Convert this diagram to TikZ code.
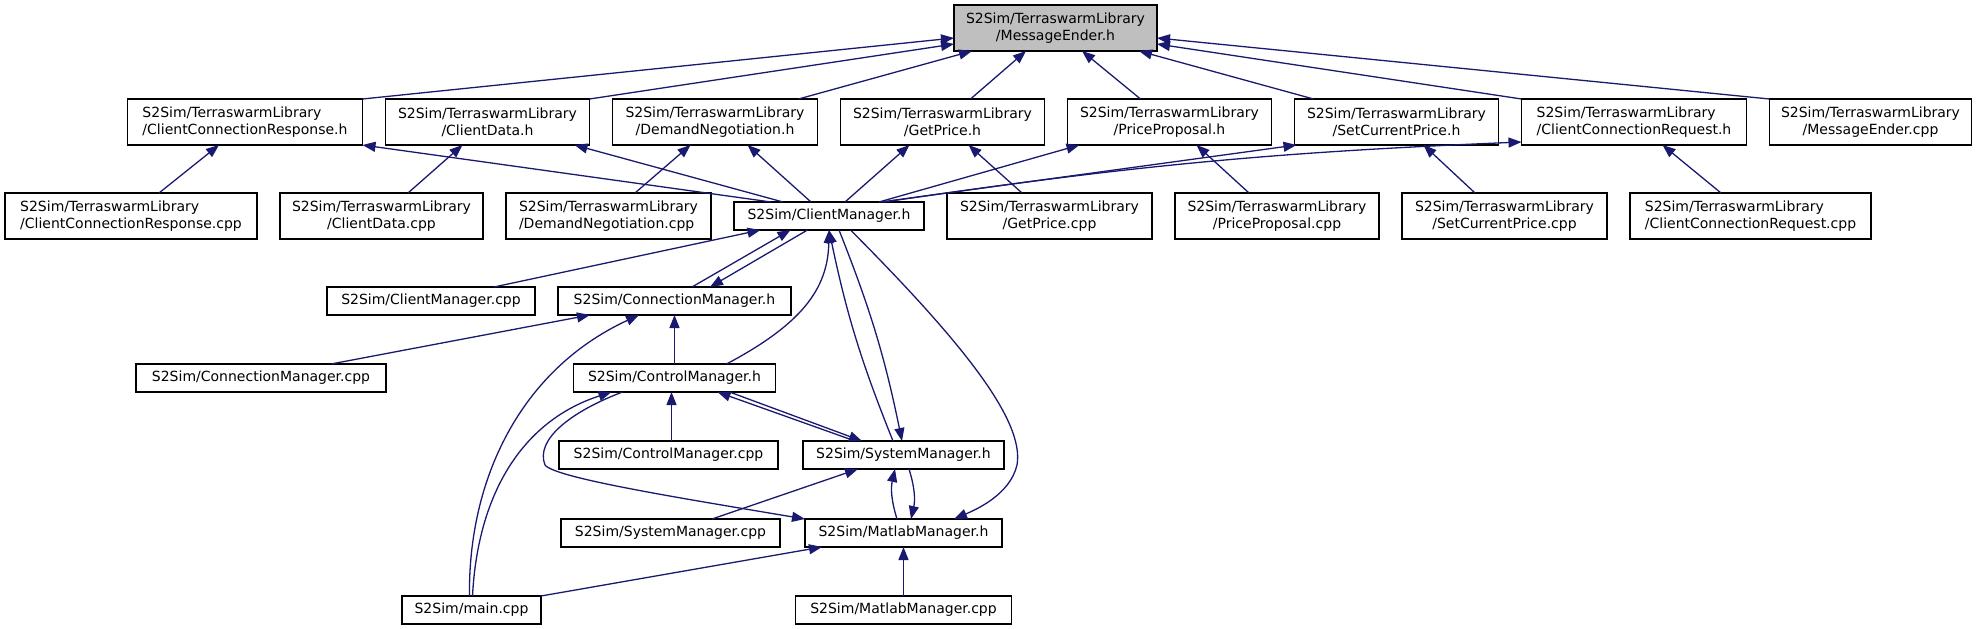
\documentclass[tikz,border=0pt]{standalone}
\usepackage{fontspec}
\setmainfont{DejaVu Sans}
\usepackage{xcolor}
\usepackage{tikz}
\usetikzlibrary{arrows.meta, positioning, calc}
\definecolor{edgeblue}{HTML}{191970}
\definecolor{focusgray}{HTML}{BFBFBF}

\begin{document}
\begin{tikzpicture}[
    x=1pt, y=-1pt,
    every node/.style={font=\fontsize{14}{17}\selectfont},
    filebox/.style={rectangle, draw=black, fill=white, line width=1.5pt,
                    inner sep=0pt, outer sep=0pt, align=center},
    tall/.style={filebox, minimum height=46pt},
    flat/.style={filebox, minimum height=28pt},
    focusbox/.style={tall, fill=focusgray},
    inc/.style={color=edgeblue, line width=1.3pt, -{Triangle[length=13pt, width=10pt]}},
]
    \useasboundingbox (0,0) rectangle (1976,629);

    % Included header
    \node[focusbox, minimum width=203pt] (msgender_h) at (1055.5,28) {S2Sim/TerraswarmLibrary\\/MessageEnder.h};

    % TerraswarmLibrary headers
    \node[tall, minimum width=235pt, align=left] (ccresp_h) at (245,122) {S2Sim/TerraswarmLibrary\\/ClientConnectionResponse.h};
    \node[tall, minimum width=204pt, right=23pt of ccresp_h] (cdata_h) {S2Sim/TerraswarmLibrary\\/ClientData.h};
    \node[tall, minimum width=205pt, right=23pt of cdata_h] (demneg_h) {S2Sim/TerraswarmLibrary\\/DemandNegotiation.h};
    \node[tall, minimum width=204pt, right=23pt of demneg_h] (getprice_h) {S2Sim/TerraswarmLibrary\\/GetPrice.h};
    \node[tall, minimum width=204pt, right=23pt of getprice_h] (propose_h) {S2Sim/TerraswarmLibrary\\/PriceProposal.h};
    \node[tall, minimum width=204pt, right=23pt of propose_h] (setprice_h) {S2Sim/TerraswarmLibrary\\/SetCurrentPrice.h};
    \node[tall, minimum width=225pt, right=23pt of setprice_h, align=left] (ccreq_h) {S2Sim/TerraswarmLibrary\\/ClientConnectionRequest.h};
    \node[tall, minimum width=202pt, right=23pt of ccreq_h] (msgender_cpp) {S2Sim/TerraswarmLibrary\\/MessageEnder.cpp};

    % TerraswarmLibrary sources + ClientManager.h
    \node[tall, minimum width=252pt, align=left] (ccresp_cpp) at (131,216) {S2Sim/TerraswarmLibrary\\/ClientConnectionResponse.cpp};
    \node[tall, minimum width=203pt, right=23pt of ccresp_cpp] (cdata_cpp) {S2Sim/TerraswarmLibrary\\/ClientData.cpp};
    \node[tall, minimum width=205pt, right=23pt of cdata_cpp, align=left] (demneg_cpp) {S2Sim/TerraswarmLibrary\\/DemandNegotiation.cpp};
    \node[flat, minimum width=190pt, right=23pt of demneg_cpp] (cm_h) {S2Sim/ClientManager.h};
    \node[tall, minimum width=205pt, right=23pt of cm_h] (getprice_cpp) {S2Sim/TerraswarmLibrary\\/GetPrice.cpp};
    \node[tall, minimum width=204pt, right=23pt of getprice_cpp] (propose_cpp) {S2Sim/TerraswarmLibrary\\/PriceProposal.cpp};
    \node[tall, minimum width=205pt, right=23pt of propose_cpp] (setprice_cpp) {S2Sim/TerraswarmLibrary\\/SetCurrentPrice.cpp};
    \node[tall, minimum width=241pt, right=23pt of setprice_cpp, align=left] (ccreq_cpp) {S2Sim/TerraswarmLibrary\\/ClientConnectionRequest.cpp};

    % Managers
    \node[flat, minimum width=208pt] (cm_cpp) at (431,301) {S2Sim/ClientManager.cpp};
    \node[flat, minimum width=233pt, right=23pt of cm_cpp] (conn_h) {S2Sim/ConnectionManager.h};
    \node[flat, minimum width=250pt] (conn_cpp) at (261,378) {S2Sim/ConnectionManager.cpp};
    \node[flat, minimum width=202pt, below=49pt of conn_h] (ctrl_h) {S2Sim/ControlManager.h};
    \node[flat, minimum width=219pt] (ctrl_cpp) at (668.5,455) {S2Sim/ControlManager.cpp};
    \node[flat, minimum width=201pt, right=25pt of ctrl_cpp] (sys_h) {S2Sim/SystemManager.h};
    \node[flat, minimum width=219pt] (sys_cpp) at (670.5,533) {S2Sim/SystemManager.cpp};
    \node[flat, minimum width=197pt, below=50pt of sys_h] (mat_h) {S2Sim/MatlabManager.h};
    \node[flat, minimum width=139pt] (main_cpp) at (471.5,610) {S2Sim/main.cpp};
    \node[flat, minimum width=216pt, below=49pt of mat_h] (mat_cpp) {S2Sim/MatlabManager.cpp};

    % Into MessageEnder.h
    \draw[inc] (ccresp_h.north east) -- ($(msgender_h.south west)+(0,-13)$);
    \draw[inc] (cdata_h.north east) -- ($(msgender_h.south west)+(0,-7)$);
    \draw[inc] ($(demneg_h.north)+(83.5,0)$) -- ($(msgender_h.south west)+(18,0)$);
    \draw[inc] ($(getprice_h.north)+(28,0)$) -- ($(msgender_h.south west)+(72,0)$);
    \draw[inc] ($(propose_h.north)+(-29,0)$) -- ($(msgender_h.south)+(26.5,0)$);
    \draw[inc] ($(setprice_h.north west)+(19,0)$) -- ($(msgender_h.south east)+(-18,0)$);
    \draw[inc] (ccreq_h.north west) -- ($(msgender_h.south east)+(0,-7)$);
    \draw[inc] (msgender_cpp.north west) -- ($(msgender_h.south east)+(0,-13)$);

    % Sources into their headers
    \draw[inc] ($(ccresp_cpp.north)+(28,0)$) -- ($(ccresp_h.south)+(-26,0)$);
    \draw[inc] ($(cdata_cpp.north)+(26.5,0)$) -- ($(cdata_h.south)+(-25,0)$);
    \draw[inc] ($(demneg_cpp.north)+(26.5,0)$) -- ($(demneg_h.south)+(-24.5,0)$);
    \draw[inc] ($(getprice_cpp.north)+(-27.5,0)$) -- ($(getprice_h.south)+(26,0)$);
    \draw[inc] ($(propose_cpp.north)+(-28,0)$) -- ($(propose_h.south)+(27,0)$);
    \draw[inc] ($(setprice_cpp.north)+(-29.5,0)$) -- ($(setprice_h.south)+(27,0)$);
    \draw[inc] ($(ccreq_cpp.north)+(-29.5,0)$) -- ($(ccreq_h.south)+(28.5,0)$);

    % ClientManager.h into the library headers
    \draw[inc] ($(cm_h.north)+(-58,0)$) -- (ccresp_h.south east);
    \draw[inc] ($(cm_h.north)+(-46,0)$) -- ($(cdata_h.south east)+(-15,0)$);
    \draw[inc] ($(cm_h.north)+(-18,0)$) -- ($(demneg_h.south)+(32.5,0)$);
    \draw[inc] ($(cm_h.north)+(16,0)$) -- ($(getprice_h.south)+(-33,0)$);
    \draw[inc] ($(cm_h.north)+(50,0)$) -- ($(propose_h.south west)+(12,0)$);
    \draw[inc] ($(cm_h.north)+(52,0)$) -- ($(setprice_h.south west)+(2,0)$);
    \draw[inc] ($(cm_h.north)+(55,0)$) to[bend left=3] ($(ccreq_h.south west)+(0,-3)$);

    % Manager layer
    \draw[inc] ($(cm_cpp.north)+(63,0)$) -- ($(cm_h.south)+(-68.5,0)$);
    \draw[inc] ($(conn_h.north)+(17.5,0)$) -- ($(cm_h.south)+(-38.5,0)$);
    \draw[inc] ($(cm_h.south)+(-21.5,0)$) -- ($(conn_h.north)+(35.5,0)$);
    \draw[inc] ($(conn_cpp.north)+(70,0)$) -- ($(conn_h.south west)+(32,0)$);
    \draw[inc] (ctrl_h.north) -- (ctrl_h.north |- conn_h.south);
    \draw[inc] ($(main_cpp.north)+(-2,0)$) .. controls (468,480) and (520,370) .. ($(conn_h.south)+(-35.5,0)$);
    \draw[inc] ($(main_cpp.north)+(1,0)$) .. controls (478,490) and (525,420) .. ($(ctrl_h.south)+(-63,0)$);
    \draw[inc] ($(ctrl_h.north)+(52,0)$) .. controls (800,325) and (828,290) .. (cm_h.south);
    \draw[inc] ($(ctrl_cpp.north)+(3,0)$) -- ($(ctrl_h.south)+(-3,0)$);
    \draw[inc] ($(sys_h.north)+(-48.5,0)$) -- ($(ctrl_h.south)+(43,0)$);
    \draw[inc] ($(ctrl_h.south)+(55,0)$) -- ($(sys_h.north)+(-41.5,0)$);
    \draw[inc] ($(sys_h.north)+(-10.5,0)$) to[bend left=5] (cm_h.south);
    \draw[inc] ($(cm_h.south)+(10,0)$) to[bend left=5] ($(sys_h.north)+(-1.5,0)$);
    \draw[inc] ($(cm_h.south)+(21.5,0)$) .. controls (960,340) and (1025,420) .. (1017,465)
                .. controls (1010,495) and (975,510) .. ($(mat_h.north)+(50.5,0)$);
    \draw[inc] ($(ctrl_h.south)+(-52,0)$) .. controls (570,412) and (535,440) .. (545,465)
                .. controls (555,478) and (680,498) .. (mat_h.north west);
    \draw[inc] ($(sys_cpp.north)+(41.5,0)$) -- ($(sys_h.south)+(-45.5,0)$);
    \draw[inc] ($(mat_h.north)+(-6.5,0)$) to[bend left=15] ($(sys_h.south)+(-8.5,0)$);
    \draw[inc] ($(sys_h.south)+(5.5,0)$) to[bend left=15] ($(mat_h.north)+(7.5,0)$);
    \draw[inc] (main_cpp.north east) -- ($(mat_h.south west)+(17,0)$);
    \draw[inc] (mat_cpp.north) -- (mat_cpp.north |- mat_h.south);

\end{tikzpicture}
\end{document}
